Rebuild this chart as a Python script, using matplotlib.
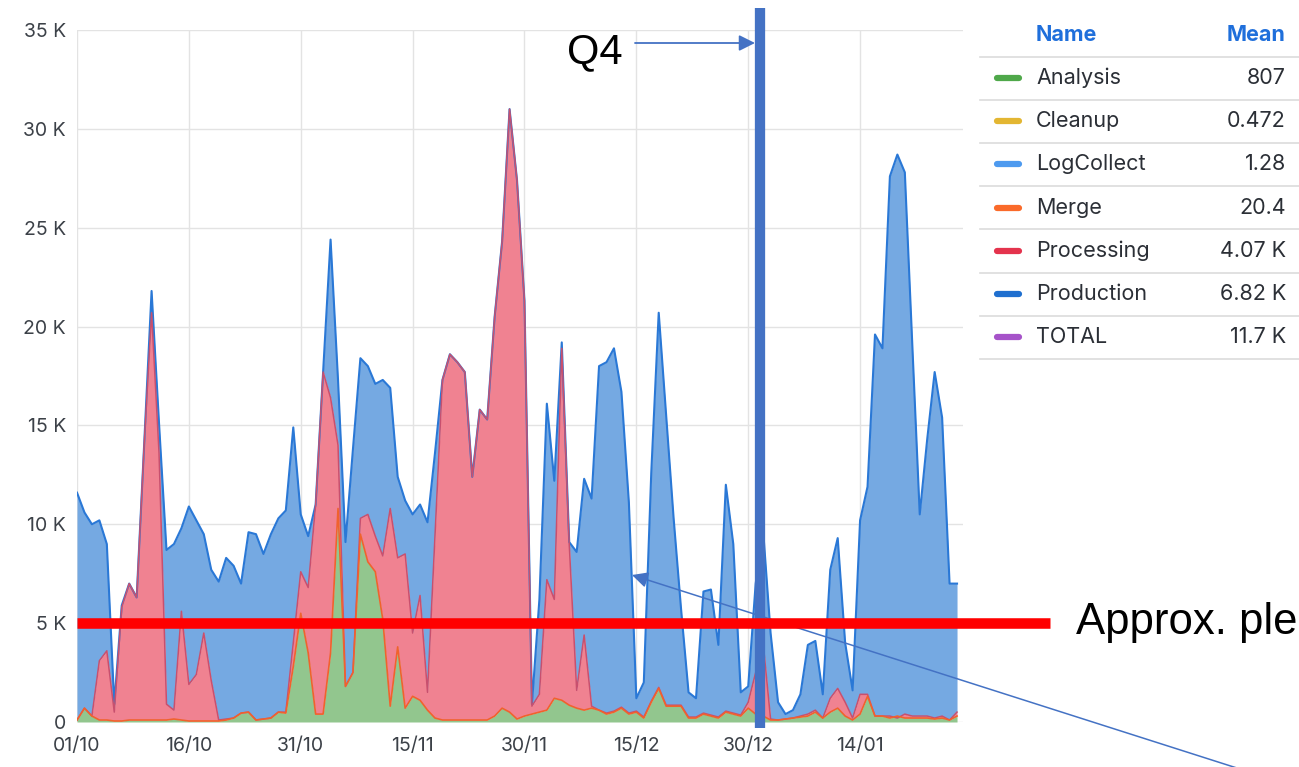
import numpy as np
import pandas as pd
import matplotlib
matplotlib.use('Agg')
import matplotlib.pyplot as plt
import matplotlib.dates as mdates
import matplotlib.transforms as mtransforms
from matplotlib.lines import Line2D

# daily stacked tops, in thousands, starting 01/10
total = [11.6, 10.6, 10.0, 10.2, 9.0, 0.9, 5.9, 7.0, 6.3, 14.0,
         21.8, 15.1, 8.7, 9.0, 9.8, 10.9, 10.2, 9.5, 7.7, 7.1,
         8.3, 7.9, 7.0, 9.6, 9.5, 8.5, 9.5, 10.3, 10.7, 14.9,
         10.5, 9.4, 11.0, 17.7, 24.4, 17.3, 9.1, 13.8, 18.4, 18.0,
         17.1, 17.3, 16.9, 12.4, 11.2, 10.5, 11.0, 10.1, 13.6, 17.3,
         18.6, 18.2, 17.7, 12.4, 15.8, 15.3, 20.5, 24.3, 31.0, 27.4,
         21.3, 0.9, 6.2, 16.1, 12.2, 19.2, 9.1, 8.6, 12.3, 11.3,
         18.0, 18.2, 18.9, 16.7, 11.1, 1.2, 2.0, 12.6, 20.7, 15.5,
         10.3, 5.7, 1.5, 1.2, 6.6, 6.7, 3.9, 12.0, 9.0, 1.5,
         1.8, 7.0, 9.7, 4.5, 1.0, 0.4, 0.6, 1.4, 3.9, 4.1,
         1.4, 7.7, 9.3, 4.0, 1.6, 10.2, 11.9, 19.6, 18.9, 27.6,
         28.7, 27.8, 19.1, 10.5, 14.3, 17.7, 15.4, 7.0, 7.0]

processing_top = [0.1, 0.7, 0.3, 3.1, 3.6, 0.5, 5.8, 7.0, 6.3, 14.0,
                  20.7, 13.6, 0.9, 0.6, 5.6, 1.9, 2.4, 4.5, 2.1, 0.1,
                  0.15, 0.2, 0.45, 0.5, 0.1, 0.15, 0.2, 0.5, 0.5, 4.0,
                  7.6, 6.8, 11.0, 17.7, 16.4, 14.0, 1.8, 2.5, 10.3, 10.5,
                  9.4, 8.4, 10.8, 8.3, 8.5, 4.5, 6.4, 1.5, 9.4, 17.3,
                  18.6, 18.2, 17.7, 12.4, 15.8, 15.3, 20.5, 24.3, 31.0, 27.4,
                  21.3, 0.8, 1.4, 7.2, 6.2, 18.9, 9.0, 1.6, 4.4, 0.8,
                  0.6, 0.45, 0.55, 0.75, 0.45, 0.55, 0.25, 1.05, 1.75, 0.85,
                  0.85, 0.85, 0.25, 0.25, 0.45, 0.35, 0.25, 0.55, 0.45, 0.35,
                  1.0, 2.5, 4.0, 0.15, 0.1, 0.15, 0.2, 0.3, 0.4, 0.6,
                  0.2, 1.2, 1.7, 1.0, 0.2, 1.4, 1.4, 0.3, 0.3, 0.3,
                  0.2, 0.4, 0.3, 0.3, 0.3, 0.2, 0.3, 0.1, 0.5]

analysis_top = [0.1, 0.7, 0.3, 0.1, 0.1, 0.05, 0.05, 0.1, 0.1, 0.1,
                0.1, 0.1, 0.1, 0.15, 0.1, 0.05, 0.05, 0.05, 0.05, 0.05,
                0.1, 0.2, 0.45, 0.5, 0.1, 0.15, 0.2, 0.5, 0.45, 2.8,
                5.5, 3.5, 0.4, 0.4, 3.5, 10.8, 1.8, 2.5, 9.5, 8.1,
                7.6, 5.2, 0.8, 3.8, 0.7, 1.3, 1.1, 0.6, 0.2, 0.1,
                0.1, 0.1, 0.1, 0.1, 0.1, 0.1, 0.3, 0.7, 0.5, 0.15,
                0.3, 0.4, 0.5, 0.6, 1.2, 1.1, 0.85, 0.7, 0.6, 0.7,
                0.6, 0.4, 0.5, 0.7, 0.4, 0.5, 0.2, 1.0, 1.7, 0.8,
                0.8, 0.8, 0.2, 0.2, 0.4, 0.3, 0.2, 0.5, 0.4, 0.3,
                0.7, 0.4, 0.3, 0.1, 0.1, 0.15, 0.2, 0.25, 0.3, 0.5,
                0.2, 0.5, 0.7, 0.3, 0.1, 0.4, 1.3, 0.3, 0.3, 0.2,
                0.3, 0.2, 0.2, 0.2, 0.2, 0.15, 0.2, 0.1, 0.3]

y_ticks = [0, 5, 10, 15, 20, 25, 30, 35]
y_labels = ['0', '5 K', '10 K', '15 K', '20 K', '25 K', '30 K', '35 K']
x_labels = ['01/10', '16/10', '31/10', '15/11', '30/11', '15/12', '30/12', '14/01']

legend_names = ['Analysis', 'Cleanup', 'LogCollect', 'Merge', 'Processing', 'Production', 'TOTAL']
legend_means = ['807', '0.472', '1.28', '20.4', '4.07 K', '6.82 K', '11.7 K']
legend_colors = ['#4fa84a', '#e3b632', '#4d9aef', '#fa6a2a', '#e4334d', '#1f6fcf', '#a653c9']

W, H = 1299, 767
fig = plt.figure(figsize=(W / 100, H / 100), dpi=100)
ax = fig.add_axes([77 / W, (H - 722) / H, (963 - 77) / W, 692 / H])

start = pd.Timestamp('2023-10-01')
dates = pd.date_range(start, periods=len(total), freq='D')

ax.fill_between(dates, processing_top, total, color='#75a9e2', lw=0)
ax.fill_between(dates, analysis_top, processing_top, color='#f08291', lw=0)
ax.fill_between(dates, 0, analysis_top, color='#92c68e', lw=0)
ax.plot(dates, total, color='#2a78d6', lw=1.5)
ax.plot(dates, processing_top, color='#c8506e', lw=1.1)
ax.plot(dates, analysis_top, color='#f0622d', lw=1.2)

ax.set_ylim(0, 35)
ax.set_xlim(start, start + pd.Timedelta(days=118.8))
ax.set_yticks(y_ticks)
ax.set_yticklabels(y_labels)
ax.set_xticks([start + pd.Timedelta(days=15 * i) for i in range(len(x_labels))])
ax.set_xticklabels(x_labels)
for s in ax.spines.values():
    s.set_visible(False)
ax.grid(color='#e3e3e3', lw=1)
ax.set_axisbelow(True)
ax.tick_params(length=0, labelsize=14, labelcolor='#3c4148')
ax.tick_params(axis='y', pad=8)
ax.tick_params(axis='x', pad=11)
for t in ax.get_xticklabels() + ax.get_yticklabels():
    t.set_family('Inter')

# annotations drawn on top of the chart
bar_x = mdates.date2num(start + pd.Timedelta(days=91.55))
trans_xd = mtransforms.blended_transform_factory(ax.transData, ax.transAxes)
ax.plot([bar_x, bar_x], [-0.009, 1.032], transform=trans_xd, color='#4472c4',
        lw=7.4, solid_capstyle='butt', clip_on=False, zorder=10)
trans_ay = mtransforms.blended_transform_factory(ax.transAxes, ax.transData)
ax.plot([0, (1050 - 77) / (963 - 77)], [5, 5], transform=trans_ay, color='#ff0000',
        lw=7.6, solid_capstyle='butt', clip_on=False, zorder=11)

ax.annotate('', xy=(755, H - 43), xytext=(635, H - 43), xycoords='figure pixels',
            textcoords='figure pixels',
            arrowprops=dict(arrowstyle='-|>', color='#4472c4', lw=1.3,
                            mutation_scale=24, shrinkA=0, shrinkB=0), annotation_clip=False)
ax.annotate('', xy=(632, H - 575), xytext=(1240, H - 769), xycoords='figure pixels',
            textcoords='figure pixels',
            arrowprops=dict(arrowstyle='-|>', color='#4472c4', lw=1.1,
                            mutation_scale=24, shrinkA=0, shrinkB=0), annotation_clip=False)
fig.text(567 / W, 1 - 63 / H, 'Q4', fontsize=30, family='Liberation Sans',
         ha='left', va='baseline', color='black')
fig.text(1076 / W, 1 - 634 / H, 'Approx. ple', fontsize=31.5, family='Liberation Sans',
         ha='left', va='baseline', color='black')

# legend table
fig.text(1036 / W, 1 - 35 / H, 'Name', fontsize=15.5, family='Inter', weight='bold',
         color='#1f6fdb', ha='left', va='center')
fig.text(1286 / W, 1 - 35 / H, 'Mean', fontsize=15.5, family='Inter', weight='bold',
         color='#1f6fdb', ha='right', va='center')
for i in range(len(legend_names) + 1):
    yy = 1 - (56.5 + 43.2 * i) / H
    fig.add_artist(Line2D([980 / W, 1.0], [yy, yy], color='#dcdcdc', lw=1.2))
for i, (nm, mv, c) in enumerate(zip(legend_names, legend_means, legend_colors)):
    yy = 1 - (78 + 43.2 * i) / H
    fig.add_artist(Line2D([997 / W, 1019 / W], [yy, yy], color=c, lw=4.5,
                          solid_capstyle='round'))
    fig.text(1036 / W, yy, nm, fontsize=15.5, family='Inter', color='#2b2f36',
             ha='left', va='center')
    fig.text(1286 / W, yy, mv, fontsize=15.5, family='Inter', color='#2b2f36',
             ha='right', va='center')

fig.savefig('out.png', dpi=100)
